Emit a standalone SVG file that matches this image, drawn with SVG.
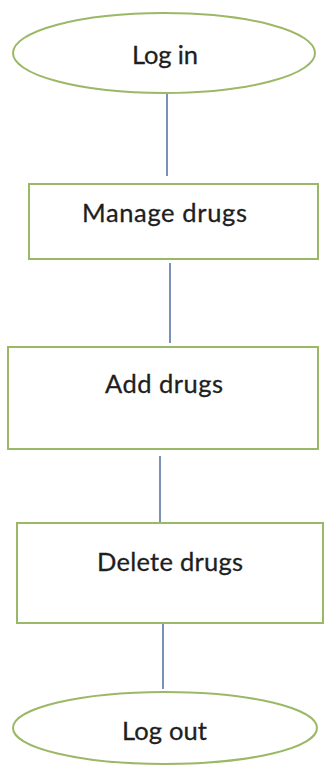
<svg xmlns="http://www.w3.org/2000/svg" width="325" height="766" viewBox="0 0 325 766">
<style>
.shape{fill:#ffffff;stroke:#9bb866;stroke-width:2}
.conn{stroke:#4f6c9c;stroke-width:1.5;fill:none}
.lbl{font-family:Lato,"Open Sans","Liberation Sans",sans-serif;font-size:25.5px;fill:#1e1e1e;text-anchor:middle;stroke:#1e1e1e;stroke-width:0.3}
</style>
<rect width="325" height="766" fill="#ffffff"/>
<g id="connectors">
<line class="conn" x1="167" y1="94" x2="167" y2="176"/>
<line class="conn" x1="170" y1="263" x2="170" y2="343"/>
<line class="conn" x1="160" y1="456" x2="160" y2="526"/>
<line class="conn" x1="163" y1="613" x2="163" y2="689"/>
</g>
<g id="login">
<ellipse class="shape" cx="164" cy="53" rx="151" ry="40"/>
<text class="lbl" x="165" y="64" textLength="66">Log in</text>
</g>
<g id="manage">
<rect class="shape" x="29" y="184" width="289" height="75"/>
<text class="lbl" x="164.5" y="222" textLength="165">Manage drugs</text>
</g>
<g id="add">
<rect class="shape" x="8" y="347" width="310" height="102"/>
<text class="lbl" x="164" y="393" textLength="118">Add drugs</text>
</g>
<g id="delete">
<rect class="shape" x="17" y="523" width="306" height="100"/>
<text class="lbl" x="170" y="571" textLength="146">Delete drugs</text>
</g>
<g id="logout">
<ellipse class="shape" cx="165" cy="728" rx="152" ry="36"/>
<text class="lbl" x="164.5" y="740" textLength="85">Log out</text>
</g>
</svg>
